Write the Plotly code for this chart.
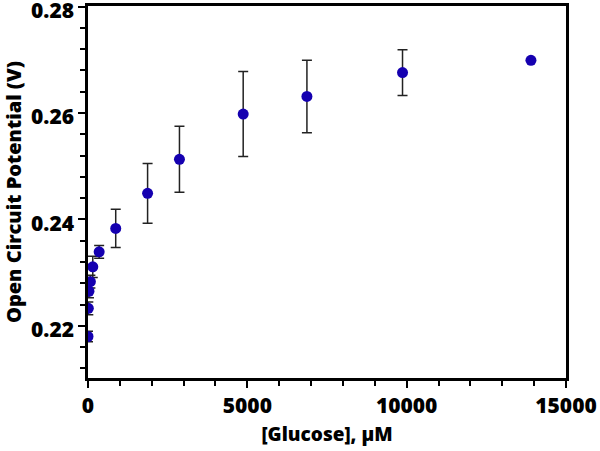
import plotly.graph_objects as go

glucose_uM = [0, 10, 30, 75, 150, 350, 870, 1870, 2870, 4870, 6870, 9870, 13900]
ocp_V = [0.2180, 0.2233, 0.2265, 0.2283, 0.2311, 0.2339, 0.2383, 0.2449, 0.2513, 0.2598, 0.2631, 0.2676, 0.2699]
ocp_err = [0.0010, 0.0012, 0.0012, 0.0012, 0.0020, 0.0012, 0.0036, 0.0056, 0.0062, 0.0080, 0.0068, 0.0043, 0.0]

FONT = "Open Sans"

fig = go.Figure()
fig.add_trace(go.Scatter(
    x=glucose_uM, y=ocp_V, mode="markers",
    marker=dict(color="#1500B0", size=11),
    error_y=dict(type="data", array=ocp_err, visible=True,
                 color="#222222", thickness=1.5, width=5),
    showlegend=False,
))

fig.update_layout(
    width=600, height=451,
    margin=dict(l=88, r=34, t=6, b=73),
    paper_bgcolor="white", plot_bgcolor="white",
    font=dict(family=FONT, color="black"),
)
fig.update_xaxes(
    range=[0, 15000], tickvals=[0, 5000, 10000, 15000], tickformat="d",
    showgrid=False, zeroline=False, automargin=False, ticklabeloverflow="allow",
    showline=True, linecolor="black", linewidth=2.5, mirror=True,
    ticks="outside", ticklen=7, tickwidth=2, tickcolor="black",
    minor=dict(dtick=1000, ticks="outside", ticklen=5, tickwidth=2, tickcolor="black"),
    tickfont=dict(family=FONT, size=21, weight=800),
    title=dict(text="[Glucose], µM", font=dict(family=FONT, size=19, weight=800), standoff=10),
)
fig.update_yaxes(
    range=[0.2102, 0.2801], tickvals=[0.22, 0.24, 0.26, 0.28], tickformat=".2f",
    showgrid=False, zeroline=False, automargin=False, ticklabeloverflow="allow",
    ticklabelshift=4,
    showline=True, linecolor="black", linewidth=2.5, mirror=True,
    ticks="outside", ticklen=7, tickwidth=2, tickcolor="black",
    minor=dict(dtick=0.004, tick0=0.2, ticks="outside", ticklen=5, tickwidth=2, tickcolor="black"),
    tickfont=dict(family=FONT, size=21, weight=800),
    title=dict(text="Open Circuit Potential (V)", font=dict(family=FONT, size=20, weight=800), standoff=7),
)

fig.write_html("out.html", config={"displayModeBar": False},
               post_script="document.body.style.margin='0';")
